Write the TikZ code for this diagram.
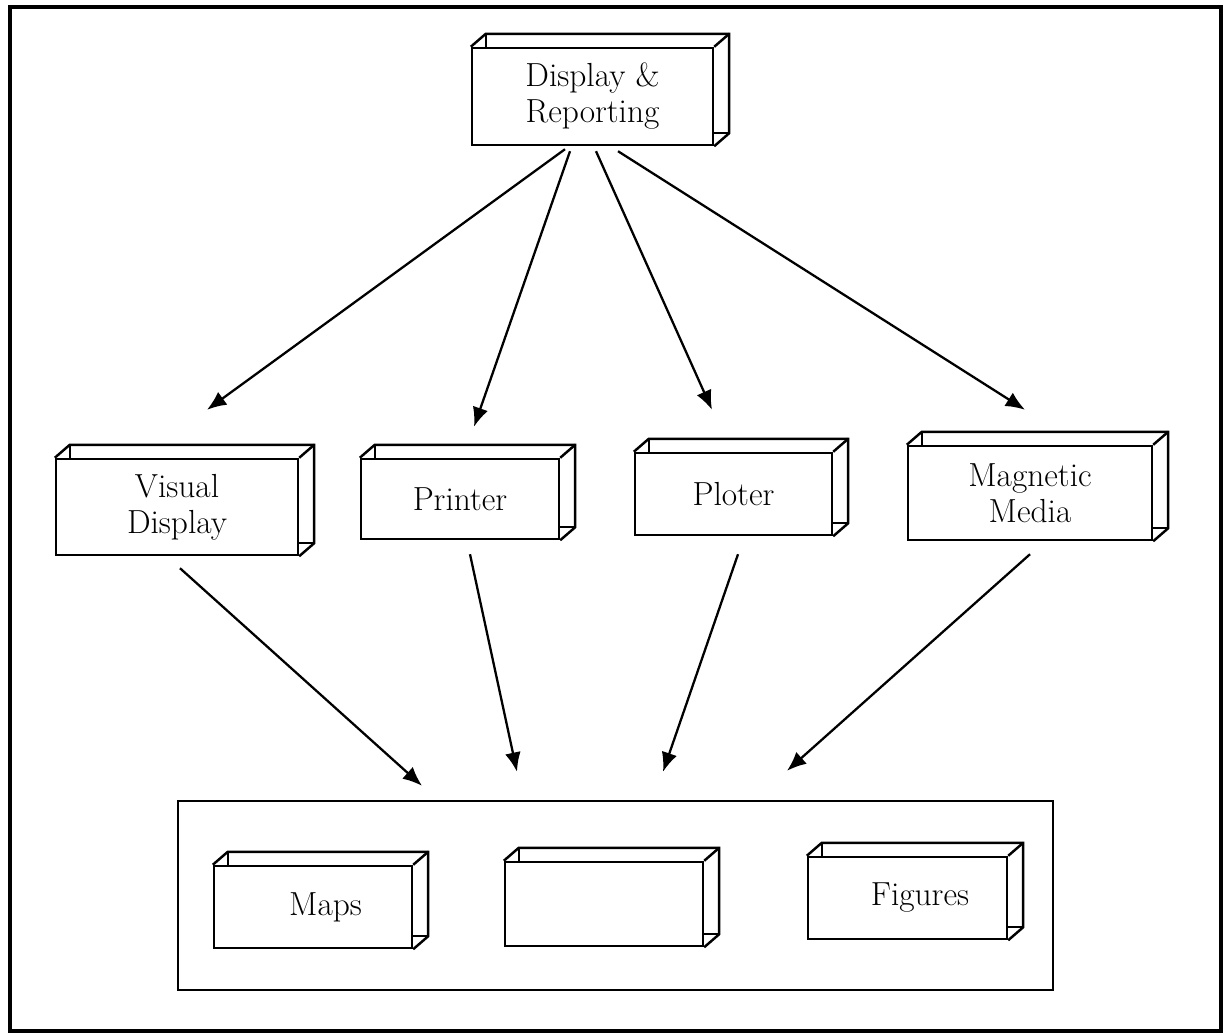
\documentclass[tikz,border=0pt]{standalone}
\usepackage{tikz}
\usetikzlibrary{positioning, calc, arrows.meta}

\begin{document}
\begin{tikzpicture}[x=0.02cm, y=-0.02cm,
        crate/.style={draw, line width=1.4pt, align=center, inner sep=2pt, font=\fontsize{19}{20.5}\selectfont},
        link/.style={-{Latex[length=11pt, width=9pt]}, line width=1.3pt}]
        % Page frame
        \useasboundingbox (0,0) rectangle (1223,1033);
        \draw[line width=1.8pt] (10,7) rectangle (1221,1031);

        % Top box
        \node[crate, minimum width=4.82cm, minimum height=1.94cm] (disp) at (592.5,96.5) {Display \&\\Reporting};

        % Middle row
        \node[crate, minimum width=4.84cm, minimum height=1.92cm] (vis) at (177,507) {Visual\\Display};
        \node[crate, minimum width=3.96cm, minimum height=1.60cm] (prn) at (460,499) {Printer};
        \node[crate, minimum width=3.94cm, minimum height=1.64cm] (plt) at (733.5,494) {Ploter};
        \node[crate, minimum width=4.88cm, minimum height=1.88cm] (mag) at (1030,493) {Magnetic\\Media};

        % Output panel
        \node[draw, line width=1.4pt, minimum width=17.5cm, minimum height=3.78cm] (out) at (615.5,895.5) {};
        \node[crate, minimum width=3.96cm, minimum height=1.64cm] (maps) at (313,907) {\hspace*{0.5cm}Maps};
        \node[crate, minimum width=3.96cm, minimum height=1.68cm] (blank) at (604,904) {};
        \node[crate, minimum width=3.98cm, minimum height=1.64cm] (figs) at (907.5,898) {\hspace*{0.5cm}Figures};

        % Depth of the boxes
        \foreach \n in {disp,vis,prn,plt,mag,maps,blank,figs} {
            \draw[line width=1.4pt] (\n.north west) -- ++(15,-13) -- ($(\n.north east)+(15,-13)$) -- ($(\n.south east)+(15,-13)$) -- (\n.south east);
            \draw[line width=1.4pt] (\n.north east) -- ++(15,-13);
            \draw[line width=0.9pt] ($(\n.north west)+(15,-13)$) -- ($(\n.north west)+(15,0)$);
            \draw[line width=0.9pt] ($(\n.south east)+(15,-13)$) -- ($(\n.south east)+(0,-13)$);
        }

        % Arrows down from the top box
        \draw[link] ($(disp.south)+(-27.5,3)$) -- ($(vis.north)+(30,-48)$);
        \draw[link] ($(disp.south)+(-22.5,5)$) -- ($(prn.north)+(14,-31)$);
        \draw[link] ($(disp.south)+(3.5,5)$) -- ($(plt.north)+(-21.5,-42)$);
        \draw[link] ($(disp.south)+(25.5,5)$) -- ($(mag.north)+(-5,-35)$);

        % Arrows into the output panel
        \draw[link] ($(vis.south)+(3,12)$) -- ($(out.north)+(-193.5,-14)$);
        \draw[link] ($(prn.south)+(10,14)$) -- ($(out.north)+(-98.5,-28)$);
        \draw[link] ($(plt.south)+(4.5,18)$) -- ($(out.north)+(47.5,-28)$);
        \draw[link] ($(mag.south)+(0,13)$) -- ($(out.north)+(171.5,-29)$);
\end{tikzpicture}
\end{document}
